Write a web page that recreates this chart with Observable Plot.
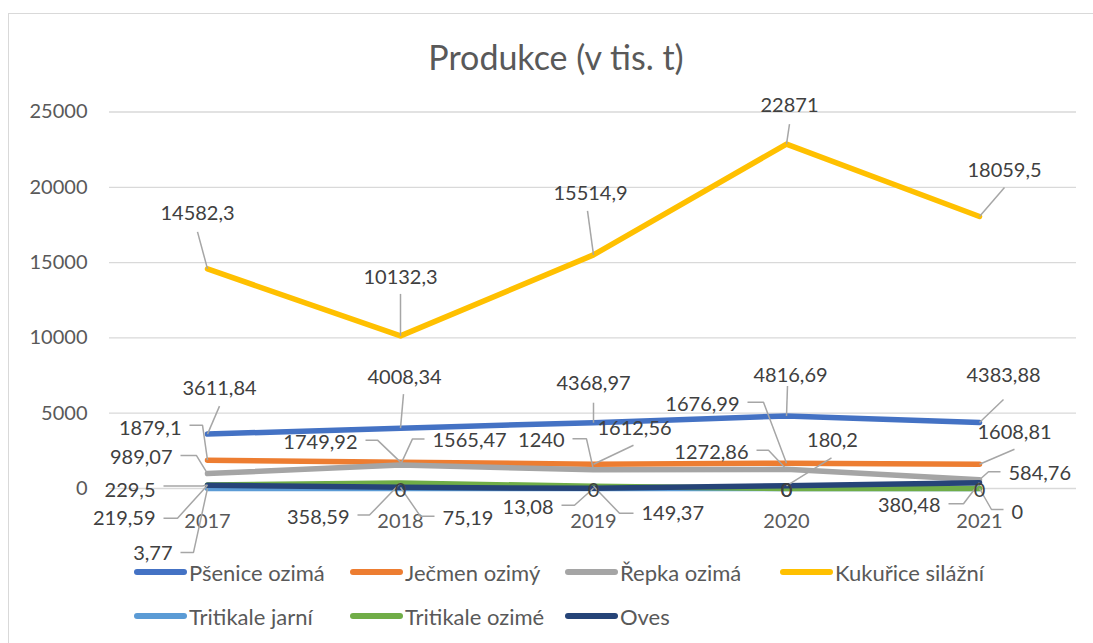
<!DOCTYPE html>
<html><head><meta charset="utf-8">
<script src="https://cdn.jsdelivr.net/npm/d3@7"></script>
<script src="https://cdn.jsdelivr.net/npm/@observablehq/plot@0.6"></script>
<style>
html,body{margin:0;background:#fff;font-family:Lato,sans-serif;overflow:hidden;width:1093px;height:643px}
#frame{position:absolute;left:8px;top:13px;width:1085px;height:630px;border-left:1.5px solid #d9d9d9;border-top:1.5px solid #d9d9d9;box-sizing:border-box}
#title{position:absolute;left:0;width:1112px;top:34px;height:46px;line-height:46px;text-align:center;font-size:34px;color:#595959}
#chart{position:absolute;left:0;top:80px}
#legend{position:absolute;left:0;top:0;width:1093px}
.item{position:absolute;display:flex;align-items:center;font-size:22px;color:#595959;white-space:nowrap;height:26px}
.sw{width:53px;height:6px;border-radius:3px;margin-right:2px}
</style></head>
<body>
<div id="frame"></div>
<div id="title">Produkce (v tis. t)</div>
<div id="chart"></div>
<div id="legend"></div>
<script>
const years = ["2017","2018","2019","2020","2021"];
const seriesNames = ["Pšenice ozimá","Ječmen ozimý","Řepka ozimá","Kukuřice silážní","Tritikale jarní","Tritikale ozimé","Oves"];
const seriesColors = ["#4472C4","#ED7D31","#A5A5A5","#FFC000","#5B9BD5","#70AD47","#264478"];
const psenice = [3611.84, 4008.34, 4368.97, 4816.69, 4383.88];
const jecmen = [1879.1, 1749.92, 1612.56, 1676.99, 1608.81];
const repka = [989.07, 1565.47, 1240, 1272.86, 584.76];
const kukurice = [14582.3, 10132.3, 15514.9, 22871, 18059.5];
const tritikaleJarni = [3.77, 0, 0, 0, 0];
const tritikaleOzime = [229.5, 358.59, 149.37, 0, 0];
const oves = [219.59, 75.19, 13.08, 180.2, 380.48];
const yTicks = [0, 5000, 10000, 15000, 20000, 25000];

// label placement (pixel offsets from the point: text dx, dy, anchor, leader elbow lx, ly)
const labelPlacement = [
  [[12,-46,"middle",12,-28],[4,-51,"middle",3,-34],[0,-39,"middle",0,-20],[4,-40,"middle",1,-30],[24,-47,"middle",24,-23]],
  [[-26,-32,"end",-5,-35],[-43,-20,"end",-23,-22],[41,-36,"middle",40,-19],[-47,-59,"end",-23,-61],[35,-32,"middle",35,-15]],
  [[-35,-16,"end",-11,-18],[32,-24,"start",12,-26],[-29,-29,"end",-7,-31],[-38,-17,"end",-18,-19],[29,-6,"start",9,-8]],
  [[-10,-55,"middle",-10,-37],[0,-58,"middle",0,-42],[-3,-61,"middle",-6,-44],[3,-38,"middle",3,-20],[25,-46,"middle",25,-29]],
  [[-35,65,"end",-14,64],[0,2,"middle"],[0,2,"middle"],[0,2,"middle"],[0,2,"middle"]],
  [[-52,6,"end",-5,1],[-51,34,"end",-31,32],[48,27,"start",26,27],[0,2,"middle"],[32,24,"start",12,21]],
  [[-52,33,"end",-30,33],[42,31,"start",20,29],[-40,19,"end",-19,17],[46,-45,"middle",45,-28],[-39,23,"end",-16,21]]
];

const seriesValues = [psenice, jecmen, repka, kukurice, tritikaleJarni, tritikaleOzime, oves];
const data = [];
seriesNames.forEach((s, si) => years.forEach((y, yi) => data.push({series: s, si, yi, year: y, value: seriesValues[si][yi]})));

const fmt = v => String(v).replace(".", ",");

function leaderCurve(lx, ly, ex) {
  return (context) => {
    let first = true;
    return {
      areaStart(){}, areaEnd(){},
      lineStart(){ first = true; },
      lineEnd(){},
      point(x, y){
        if (!first) return;
        first = false;
        context.moveTo(x, y);
        context.lineTo(x + lx, y + ly);
        if (ex != null) context.lineTo(x + ex, y + ly);
      }
    };
  };
}

const leaderMarks = [];
const labelMarks = [];
for (const d of data) {
  const p = labelPlacement[d.si][d.yi];
  const [dx, dy, anchor, lx, ly] = p;
  if (lx != null) {
    let ex = null;
    if (anchor === "end") ex = dx + 8;
    else if (anchor === "start") ex = dx - 8;
    leaderMarks.push(Plot.link([d], {x1: "year", y1: "value", x2: "year", y2: "value",
      curve: leaderCurve(lx, ly, ex), stroke: "#a6a6a6", strokeWidth: 1.5}));
  }
  labelMarks.push(Plot.text([d], {x: "year", y: "value", text: dd => fmt(dd.value), dx, dy,
    textAnchor: anchor, lineAnchor: "middle", fill: "#404040", fontSize: 20}));
}

const chart = Plot.plot({
  width: 1093,
  height: 470,
  marginLeft: 109,
  marginRight: 17,
  marginTop: 31.5,
  marginBottom: 62,
  style: {fontFamily: "Lato, sans-serif", color: "#595959", background: "transparent", overflow: "visible"},
  x: {type: "point", domain: years, padding: 0.5},
  y: {domain: [0, 25000]},
  color: {domain: seriesNames, range: seriesColors},
  marks: [
    Plot.gridY(yTicks, {stroke: "#d9d9d9", strokeOpacity: 1, strokeWidth: 1.3}),
    Plot.axisY({ticks: yTicks, tickSize: 0, tickPadding: 22, fontSize: 20, tickFormat: d => String(d), label: null}),
    Plot.axisX({tickSize: 0, tickPadding: 25, fontSize: 20, label: null}),
    Plot.line(data, {x: "year", y: "value", z: "series", stroke: "series", strokeWidth: 5.5, strokeLinecap: "round", strokeLinejoin: "round"}),
    ...leaderMarks,
    ...labelMarks
  ]
});
document.getElementById("chart").appendChild(chart);

// legend
const legend = document.getElementById("legend");
const legendLeft = [134, 350, 565, 780];
const legendTop = [559, 603];
seriesNames.forEach((s, i) => {
  const row = i < 4 ? 0 : 1;
  const col = i < 4 ? i : i - 4;
  const item = document.createElement("div");
  item.className = "item";
  item.style.left = legendLeft[col] + "px";
  item.style.top = legendTop[row] + "px";
  const sw = document.createElement("span");
  sw.className = "sw";
  sw.style.background = seriesColors[i];
  const t = document.createElement("span");
  t.textContent = s;
  item.appendChild(sw);
  item.appendChild(t);
  legend.appendChild(item);
});
</script>
</body></html>
